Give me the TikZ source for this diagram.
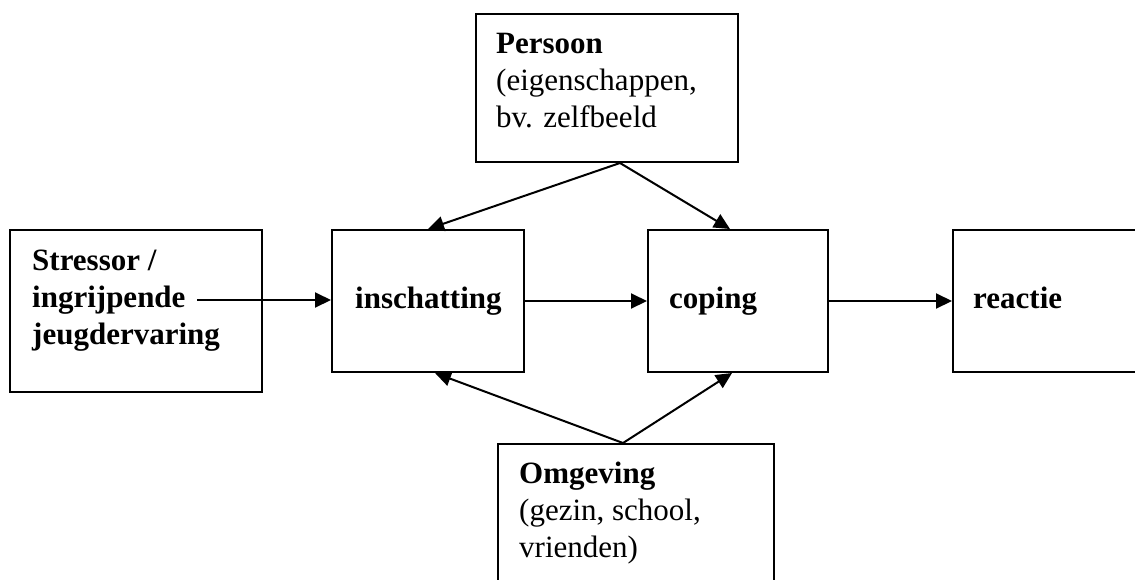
\documentclass[tikz,border=0pt]{standalone}
\usepackage{fontspec}
\setmainfont{Liberation Serif}
\usetikzlibrary{arrows.meta}
\tikzset{
  blok/.style={draw, line width=2pt, inner sep=0pt},
  tekst/.style={anchor=base west, inner sep=0pt, align=left,
    font=\fontsize{31}{37}\selectfont},
  pijl/.style={line width=2pt, -{Triangle[length=16pt,width=15pt]}}
}
\begin{document}
\begin{tikzpicture}[x=1pt,y=-1pt]
\useasboundingbox (0,0) rectangle (1135,579);
\clip (0,0) rectangle (1135,579);
% blokken
\node[blok, minimum width=252pt, minimum height=162pt] (stressor) at (136,311) {};
\node[blok, minimum width=192pt, minimum height=142pt] (insch) at (428,301) {};
\node[blok, minimum width=180pt, minimum height=142pt] (coping) at (738,301) {};
\node[blok, minimum width=197pt, minimum height=142pt] (reactie) at (1051.5,301) {};
\node[blok, minimum width=262pt, minimum height=148pt] (persoon) at (607,88) {};
\node[blok, minimum width=276pt, minimum height=156pt] (omgeving) at (636,522) {};
% teksten (basislijn van de laatste regel)
\node[tekst] (t-stressor) at (32,344) {\textbf{Stressor /}\\\textbf{ingrijpende}\\\textbf{jeugdervaring}};
\node[tekst] (t-insch) at (355,308) {\textbf{inschatting}};
\node[tekst] (t-coping) at (669,308) {\textbf{coping}};
\node[tekst] (t-reactie) at (973,308) {\textbf{reactie}};
\node[tekst] (t-persoon) at (496,127) {\textbf{Persoon}\\(eigenschappen,\\bv. zelfbeeld};
\node[tekst] (t-omgeving) at (519,557) {\textbf{Omgeving}\\(gezin, school,\\vrienden)};
% pijlen
\coordinate (start) at (197,300);
\draw[pijl] (start) -- (start -| insch.west);
\draw[pijl] (insch.east) -- (coping.west);
\draw[pijl] (coping.east) -- (reactie.west);
\draw[pijl] ([xshift=13pt]persoon.south) -- (insch.north);
\draw[pijl] ([xshift=13pt]persoon.south) -- ([xshift=-8pt]coping.north);
\draw[pijl] ([xshift=-13pt]omgeving.north) -- ([xshift=7pt]insch.south);
\draw[pijl] ([xshift=-13pt]omgeving.north) -- ([xshift=-6pt]coping.south);
\end{tikzpicture}
\end{document}
